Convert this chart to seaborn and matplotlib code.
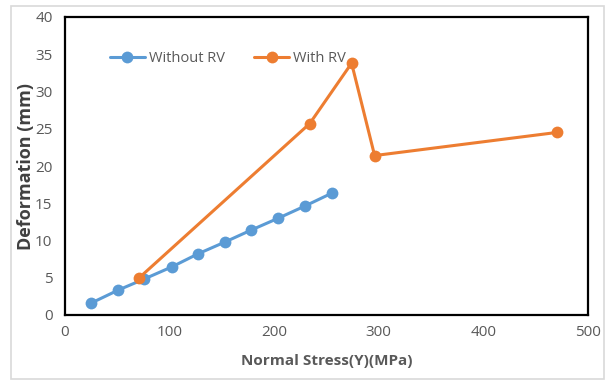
import matplotlib
matplotlib.use("Agg")
import matplotlib.pyplot as plt
from matplotlib.patches import Rectangle
import seaborn as sns
import pandas as pd

# Normal stress (MPa) and deformation (mm) for each case
stress_without_rv = [25, 51, 76, 102, 127, 153, 178, 204, 229, 255]
deform_without_rv = [1.6, 3.35, 4.85, 6.45, 8.2, 9.8, 11.4, 13.0, 14.6, 16.35]
stress_with_rv = [71, 234, 274, 296, 470]
deform_with_rv = [5.0, 25.7, 33.8, 21.4, 24.5]

series_names = ["Without RV", "With RV"]
x_ticks = [0, 100, 200, 300, 400, 500]
y_ticks = [0, 5, 10, 15, 20, 25, 30, 35, 40]

df = pd.concat([
    pd.DataFrame({"stress": stress_without_rv, "deformation": deform_without_rv,
                  "case": series_names[0]}),
    pd.DataFrame({"stress": stress_with_rv, "deformation": deform_with_rv,
                  "case": series_names[1]}),
], ignore_index=True)

sns.set_theme(style="white")
plt.rcParams["font.family"] = ["Open Sans", "DejaVu Sans"]

fig = plt.figure(figsize=(6.06, 3.81), dpi=100)
ax = fig.add_axes([65 / 606, 1 - 315 / 381, (588 - 65) / 606, (315 - 17) / 381])

palette = {"Without RV": "#5B9BD5", "With RV": "#ED7D31"}
sns.lineplot(data=df, x="stress", y="deformation", hue="case", hue_order=series_names,
             palette=palette, sort=False, estimator=None, marker="o", markersize=8.5,
             markeredgewidth=0, linewidth=2.2, ax=ax, legend=True)

ax.set_xlim(0, 500)
ax.set_ylim(0, 40)
ax.set_xticks(x_ticks)
ax.set_yticks(y_ticks)
ax.tick_params(axis="both", length=0, labelsize=11, labelcolor="#595959")
ax.tick_params(axis="y", pad=9)
ax.tick_params(axis="x", pad=7)
ax.set_xlabel("Normal Stress(Y)(MPa)", fontsize=11, fontweight="bold", color="#595959", labelpad=10)
ax.set_ylabel("Deformation (mm)", fontsize=13, fontweight="bold", color="#404040")
ax.yaxis.set_label_coords(-0.058, 0.5)
for s in ax.spines.values():
    s.set_visible(True)
    s.set_color("black")
    s.set_linewidth(1.6)

leg = ax.legend(loc="upper left", bbox_to_anchor=(0.06, 0.93), ncol=2, frameon=False,
                fontsize=10.5, handlelength=2.4, columnspacing=2.0, handletextpad=0.3)
for t in leg.get_texts():
    t.set_color("#595959")

# light border around the whole figure
fig.patches.append(Rectangle((11 / 606, 2 / 381), 593 / 606, 373 / 381, transform=fig.transFigure,
                             fill=False, edgecolor="#d9d9d9", linewidth=1.2))

fig.savefig("out.png", dpi=100)
